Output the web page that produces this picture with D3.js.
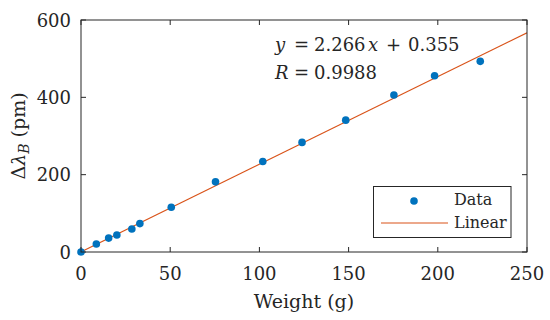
<!DOCTYPE html>
<html>
<head>
<meta charset="utf-8">
<script src="https://cdn.jsdelivr.net/npm/d3@7"></script>
<style>
  body { margin: 0; background: #fff; }
</style>
</head>
<body>
<script>
var width = 550;
var height = 320;
var margin = {top: 20, left: 81, bottom: 68, right: 23};
var fontFam = "'DejaVu Serif', serif";

// measured points
var weights = [0, 8.6, 15.5, 20.1, 28.5, 33, 50.6, 75.4, 101.9, 123.9, 148.4, 175.4, 198.2, 223.8];
var shifts = [0, 20.7, 36, 44, 59.6, 73.5, 115.8, 181.4, 234, 283.4, 341, 406, 456, 493];

// fit
var slope = 2.266;
var intercept = 0.355;
var fitRange = [0, 250];

var xTicks = [0, 50, 100, 150, 200, 250];
var yTicks = [0, 200, 400, 600];

var blue = "#0072BD";
var orange = "#D95319";
var axisColor = "#262626";

var svg = d3.select("body")
  .append("svg")
  .attr("width", width)
  .attr("height", height)
  .attr("font-family", fontFam)
  .attr("fill", axisColor);

var x = d3.scaleLinear().domain([0, 250]).range([margin.left, width - margin.right]);
var y = d3.scaleLinear().domain([0, 600]).range([height - margin.bottom, margin.top]);

var plotW = width - margin.left - margin.right;
var plotH = height - margin.top - margin.bottom;
var tickLen = 5;

// ticks (inward, on all four sides)
var ticks = svg.append("g").attr("stroke", axisColor).attr("stroke-width", 1);
xTicks.forEach(function(t) {
  ticks.append("line").attr("x1", x(t)).attr("x2", x(t))
    .attr("y1", y(0)).attr("y2", y(0) - tickLen);
  ticks.append("line").attr("x1", x(t)).attr("x2", x(t))
    .attr("y1", y(600)).attr("y2", y(600) + tickLen);
});
yTicks.forEach(function(t) {
  ticks.append("line").attr("x1", x(0)).attr("x2", x(0) + tickLen)
    .attr("y1", y(t)).attr("y2", y(t));
  ticks.append("line").attr("x1", x(250)).attr("x2", x(250) - tickLen)
    .attr("y1", y(t)).attr("y2", y(t));
});

// tick labels
svg.append("g").selectAll("text")
  .data(xTicks)
  .enter()
  .append("text")
  .attr("x", d => x(d))
  .attr("y", y(0) + 28)
  .attr("text-anchor", "middle")
  .attr("font-size", 18)
  .text(d => d);

svg.append("g").selectAll("text")
  .data(yTicks)
  .enter()
  .append("text")
  .attr("x", x(0) - 10)
  .attr("y", d => y(d) + 6.5)
  .attr("text-anchor", "end")
  .attr("font-size", 18)
  .text(d => d);

// axis titles
svg.append("text")
  .attr("x", x(125))
  .attr("y", 308)
  .attr("text-anchor", "middle")
  .attr("font-size", 19)
  .text("Weight (g)");

var ylab = svg.append("text")
  .attr("transform", "translate(25," + (margin.top + plotH / 2) + ")rotate(-90)")
  .attr("text-anchor", "middle")
  .attr("font-size", 19);
ylab.append("tspan").text("Δ");
ylab.append("tspan").attr("font-style", "italic").text("λ");
ylab.append("tspan").attr("font-style", "italic").attr("font-size", 14).attr("dy", 4).text("B");
ylab.append("tspan").attr("dy", -4).text(" (pm)");

// fit line
svg.append("clipPath").attr("id", "plotclip")
  .append("rect").attr("x", margin.left).attr("y", margin.top)
  .attr("width", plotW).attr("height", plotH);

svg.append("line")
  .attr("clip-path", "url(#plotclip)")
  .attr("x1", x(fitRange[0])).attr("y1", y(slope * fitRange[0] + intercept))
  .attr("x2", x(fitRange[1])).attr("y2", y(slope * fitRange[1] + intercept))
  .attr("stroke", orange)
  .attr("stroke-width", 1.2);

// data points
svg.append("g").selectAll("circle")
  .data(weights)
  .enter()
  .append("circle")
  .attr("cx", d => x(d))
  .attr("cy", (d, i) => y(shifts[i]))
  .attr("r", 3.8)
  .attr("fill", blue);

// box
svg.append("rect")
  .attr("x", margin.left).attr("y", margin.top)
  .attr("width", plotW).attr("height", plotH)
  .attr("fill", "none")
  .attr("stroke", axisColor)
  .attr("stroke-width", 1);

// equation, laid out piece by piece like the LaTeX spacing
var eq1 = svg.append("text").attr("y", 51).attr("font-size", 18);
eq1.append("tspan").attr("x", 275).attr("font-style", "italic").text("y");
eq1.append("tspan").attr("x", 294).text("=");
eq1.append("tspan").attr("x", 314).text(slope.toFixed(3));
eq1.append("tspan").attr("x", 368).attr("font-style", "italic").text("x");
eq1.append("tspan").attr("x", 386).text("+");
eq1.append("tspan").attr("x", 408).text(intercept.toFixed(3));

var eq2 = svg.append("text").attr("y", 79).attr("font-size", 18);
eq2.append("tspan").attr("x", 275).attr("font-style", "italic").text("R");
eq2.append("tspan").attr("x", 294).text("=");
eq2.append("tspan").attr("x", 314).text("0.9988");

// legend
var legend = svg.append("g");
legend.append("rect")
  .attr("x", 373.5).attr("y", 186.5)
  .attr("width", 137.5).attr("height", 51)
  .attr("fill", "#fff")
  .attr("stroke", axisColor)
  .attr("stroke-width", 1);
legend.append("circle")
  .attr("cx", 414).attr("cy", 201)
  .attr("r", 3.8).attr("fill", blue);
legend.append("line")
  .attr("x1", 381).attr("x2", 448)
  .attr("y1", 223).attr("y2", 223)
  .attr("stroke", orange).attr("stroke-width", 1.2);
legend.append("text").attr("x", 454).attr("y", 205).attr("font-size", 16).text("Data");
legend.append("text").attr("x", 454).attr("y", 228).attr("font-size", 16).text("Linear");
</script>
</body>
</html>
